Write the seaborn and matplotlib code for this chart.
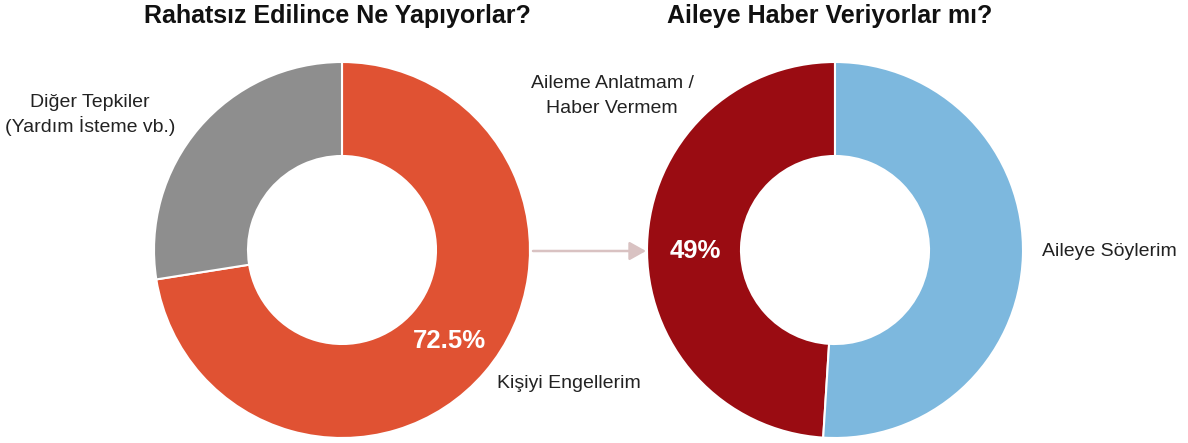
import matplotlib
matplotlib.use("Agg")
import matplotlib.pyplot as plt
import seaborn as sns

sns.set_theme(style="white")
plt.rcParams['font.family'] = ['Liberation Sans', 'DejaVu Sans']

# ---- data ----
left_title = "Rahatsız Edilince Ne Yapıyorlar?"
left_labels = ["Kişiyi Engellerim", "Diğer Tepkiler\n(Yardım İsteme vb.)"]
left_values = [72.5, 27.5]
left_colors = ["#E05233", "#8E8E8E"]

right_title = "Aileye Haber Veriyorlar mı?"
right_labels = ["Aileme Anlatmam /\nHaber Vermem", "Aileye Söylerim"]
right_values = [49, 51]
right_colors = ["#9A0C12", "#7DB8DE"]

W, H = 1188, 443
fig = plt.figure(figsize=(W / 100, H / 100), dpi=100)
fig.patch.set_facecolor("white")

R = 188


def px_axes(cx, cy, r):
    return fig.add_axes([(cx - r) / W, (H - cy - r) / H, 2 * r / W, 2 * r / H])


def fx(x):
    return x / W


def fy(y):
    return 1 - y / H


# left donut: first wedge (72.5) clockwise from top
ax1 = px_axes(342, 250, R)
ax1.pie(left_values, colors=left_colors, startangle=90, counterclock=False,
        radius=1, wedgeprops=dict(width=0.5, edgecolor="white", linewidth=1.5))
ax1.set_xlim(-1, 1)
ax1.set_ylim(-1, 1)
ax1.axis("off")

# right donut: first wedge (49) counter-clockwise from top
ax2 = px_axes(835, 250, R)
ax2.pie(right_values, colors=right_colors, startangle=90, counterclock=True,
        radius=1, wedgeprops=dict(width=0.5, edgecolor="white", linewidth=1.5))
ax2.set_xlim(-1, 1)
ax2.set_ylim(-1, 1)
ax2.axis("off")

# titles
fig.text(fx(337), fy(16), left_title, ha="center", va="center",
         fontsize=18, fontweight="bold", color="#111111")
fig.text(fx(830), fy(16), right_title, ha="center", va="center",
         fontsize=18, fontweight="bold", color="#111111")

# value labels
fig.text(fx(449), fy(341), f"{left_values[0]}%", ha="center", va="center",
         fontsize=18.5, fontweight="bold", color="white")
fig.text(fx(695), fy(251), f"{right_values[0]:g}%", ha="center", va="center",
         fontsize=18.5, fontweight="bold", color="white")

# category labels
fig.text(fx(497), fy(383), left_labels[0], ha="left", va="center",
         fontsize=14, color="#222222")
fig.text(fx(90), fy(115), left_labels[1], ha="center", va="center",
         fontsize=14, color="#222222", linespacing=1.35)
fig.text(fx(612), fy(96), right_labels[0], ha="center", va="center",
         fontsize=14, color="#222222", linespacing=1.6)
fig.text(fx(1042), fy(251), right_labels[1], ha="left", va="center",
         fontsize=14, color="#222222")

# connecting arrow
fig.patches.append(matplotlib.patches.FancyArrowPatch(
    (fx(533), fy(251)), (fx(646), fy(251)), transform=fig.transFigure,
    arrowstyle="-|>,head_length=5,head_width=2.8", mutation_scale=2,
    shrinkA=0, shrinkB=0, color="#D9C2C2", linewidth=1.8))

fig.savefig("out.png", dpi=100, facecolor="white")
